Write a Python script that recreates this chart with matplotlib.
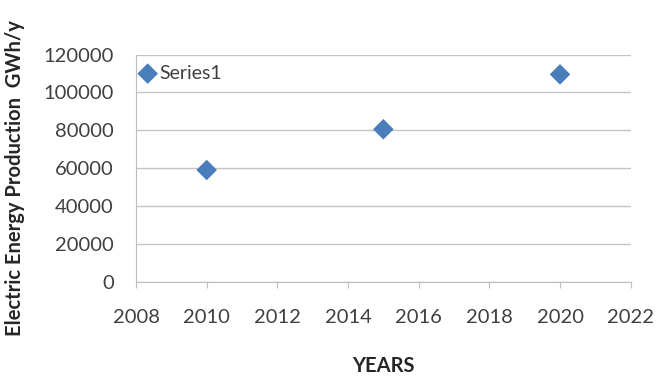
import matplotlib.pyplot as plt

years = [2010, 2015, 2020]
production = [59000, 80500, 109500]
x_ticks = list(range(2008, 2023, 2))
y_ticks = list(range(0, 120001, 20000))

plt.rcParams['font.family'] = ['Lato', 'DejaVu Sans']

fig = plt.figure(figsize=(6.69, 3.78), dpi=100)
ax = fig.add_axes([0.2033, 0.2548, 0.7394, 0.601])

ax.scatter(years, production, marker='D', s=110, color='#4a7ebb',
           edgecolors='none', label='Series1', zorder=3)

ax.set_xlim(2008, 2022)
ax.set_ylim(0, 120000)
ax.set_xticks(x_ticks)
ax.set_yticks(y_ticks)

ax.grid(axis='y', color='#c4c4c4', linewidth=1)
ax.set_axisbelow(True)
for side in ('top', 'right'):
    ax.spines[side].set_visible(False)
for side in ('left', 'bottom'):
    ax.spines[side].set_color('#bdbdbd')
ax.tick_params(axis='x', colors='#bdbdbd', length=4, direction='out',
               labelcolor='#404040', labelsize=14.5, pad=16)
ax.tick_params(axis='y', length=0, labelcolor='#404040', labelsize=14.5, pad=16)

ax.set_xlabel('YEARS', fontsize=14.5, fontweight='bold', color='#262626', labelpad=21)
ax.set_ylabel('Electric Energy Production  GWh/y', fontsize=14.5,
              fontweight='bold', color='#262626')
# label sits a little below the middle of the plot area
ax.yaxis.set_label_coords(-0.225, 0.455)

leg = ax.legend(loc='upper left', frameon=False, fontsize=14, handletextpad=0.0,
                handlelength=1.2, borderaxespad=0.0, borderpad=0.0,
                labelcolor='#404040', scatterpoints=1,
                bbox_to_anchor=(0.0, 0.955))

fig.savefig('out.png', dpi=100)
